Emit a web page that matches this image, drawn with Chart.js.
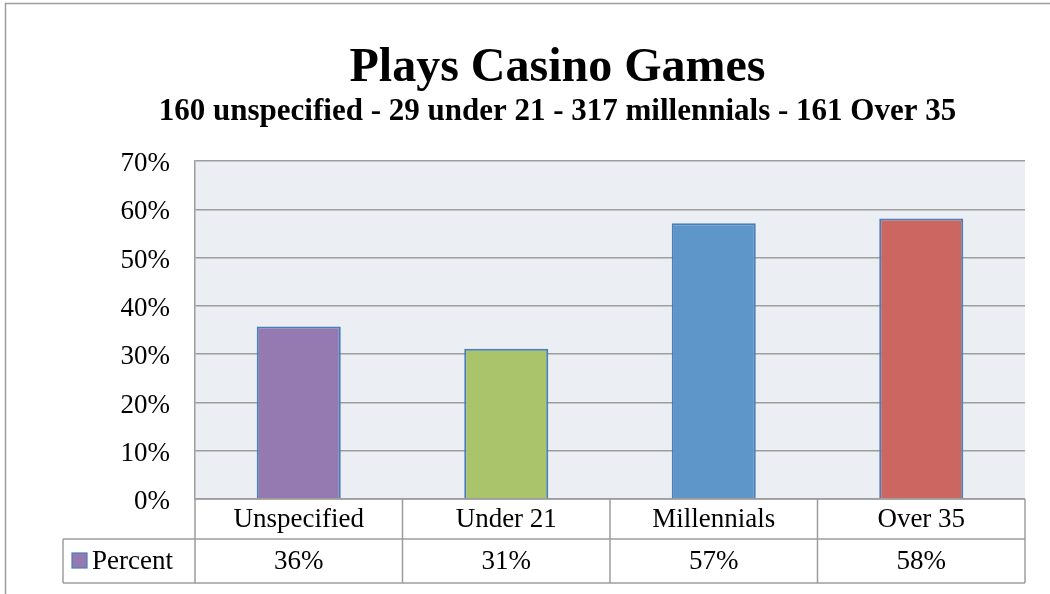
<!DOCTYPE html>
<html><head><meta charset="utf-8">
<script src="https://cdn.jsdelivr.net/npm/chart.js@4"></script>
<style>html,body{margin:0;padding:0;background:#fff;overflow:hidden}</style>
</head><body>
<canvas id="c" width="1050" height="594"></canvas>
<script>
const categories = ['Unspecified', 'Under 21', 'Millennials', 'Over 35'];
const percentValues = [35.7, 31.1, 57.1, 58.1];
const tableLabels = ['36%', '31%', '57%', '58%'];
const seriesName = 'Percent';
const yMin = 0, yMax = 70, yStep = 10;
const titleText = 'Plays Casino Games';
const subtitleText = '160 unspecified - 29 under 21 - 317 millennials - 161 Over 35';
const barColors = ['#957AB2', '#A9C46B', '#5F96CA', '#CC6660'];

const SERIF = '"Liberation Serif", "DejaVu Serif", serif';
const LINE = '#9d9d9d';

const framePlugin = {
  id: 'frame',
  beforeDraw(chart) {
    const ctx = chart.ctx, a = chart.chartArea;
    ctx.save();
    ctx.fillStyle = '#fff';
    ctx.fillRect(0, 0, chart.width, chart.height);
    ctx.strokeStyle = LINE;
    ctx.lineWidth = 1.5;
    ctx.beginPath();
    ctx.moveTo(5.5, chart.height);
    ctx.lineTo(5.5, 3.5);
    ctx.lineTo(chart.width, 3.5);
    ctx.stroke();
    ctx.fillStyle = '#EBEEF3';
    ctx.fillRect(a.left, a.top, a.right - a.left, a.bottom - a.top);
    ctx.restore();
  },
  afterDraw(chart) {
    const ctx = chart.ctx, a = chart.chartArea, xs = chart.scales.x;
    const n = categories.length;
    const cw = (a.right - a.left) / n;
    const r1 = a.bottom, r2 = a.bottom + 40, r3 = a.bottom + 84;
    const legLeft = 63;
    ctx.save();
    ctx.strokeStyle = LINE;
    ctx.lineWidth = 1.5;
    ctx.beginPath();
    ctx.moveTo(a.left, r1); ctx.lineTo(a.right, r1);
    ctx.moveTo(legLeft, r2); ctx.lineTo(a.right, r2);
    ctx.moveTo(legLeft, r3); ctx.lineTo(a.right, r3);
    for (let i = 0; i <= n; i++) {
      const x = xs.getPixelForValue(i) - cw / 2;
      ctx.moveTo(x, r1); ctx.lineTo(x, r3);
    }
    ctx.moveTo(legLeft, r2); ctx.lineTo(legLeft, r3);
    ctx.stroke();

    ctx.fillStyle = '#000';
    ctx.font = '27px ' + SERIF;
    ctx.textAlign = 'center';
    ctx.textBaseline = 'middle';
    for (let i = 0; i < n; i++) {
      const x = xs.getPixelForValue(i);
      ctx.fillText(categories[i], x, (r1 + r2) / 2 + 1);
      ctx.fillText(tableLabels[i], x, (r2 + r3) / 2 + 1);
    }
    ctx.fillStyle = barColors[0];
    ctx.fillRect(legLeft + 9, r2 + 14, 15, 15);
    ctx.strokeStyle = '#4A7EBB';
    ctx.lineWidth = 1.2;
    ctx.strokeRect(legLeft + 9, r2 + 14, 15, 15);
    ctx.fillStyle = '#000';
    ctx.textAlign = 'left';
    ctx.fillText(seriesName, legLeft + 29, (r2 + r3) / 2 + 1);
    ctx.restore();
  }
};

new Chart(document.getElementById('c'), {
  type: 'bar',
  data: {
    labels: categories,
    datasets: [{
      label: seriesName,
      data: percentValues,
      backgroundColor: barColors,
      borderColor: '#4A7EBB',
      borderWidth: 2,
      categoryPercentage: 1,
      barPercentage: 0.405
    }]
  },
  options: {
    responsive: false,
    devicePixelRatio: 1,
    animation: false,
    layout: { padding: { top: 0, right: 25, bottom: 0, left: 90 } },
    plugins: {
      legend: { display: false },
      tooltip: { enabled: false },
      title: {
        display: true, text: titleText, color: '#000',
        font: { family: SERIF, size: 48, weight: 'bold', lineHeight: 1 },
        padding: { top: 45, bottom: 3 }
      },
      subtitle: {
        display: true, text: subtitleText, color: '#000',
        font: { family: SERIF, size: 31, weight: 'bold', lineHeight: 1 },
        padding: { top: 0, bottom: 34 }
      }
    },
    scales: {
      x: {
        ticks: { display: false },
        grid: { display: false },
        border: { display: false },
        afterFit(s) { s.height = 95; }
      },
      y: {
        min: yMin, max: yMax,
        ticks: {
          stepSize: yStep, padding: 25, color: '#000', labelOffset: 3,
          font: { family: SERIF, size: 27 },
          callback: v => v + '%'
        },
        grid: { color: LINE, lineWidth: 1.5, drawTicks: false },
        border: { display: true, color: LINE, width: 1.5 },
        afterFit(s) { s.width = 105; }
      }
    }
  },
  plugins: [framePlugin]
});
</script>
</body></html>
